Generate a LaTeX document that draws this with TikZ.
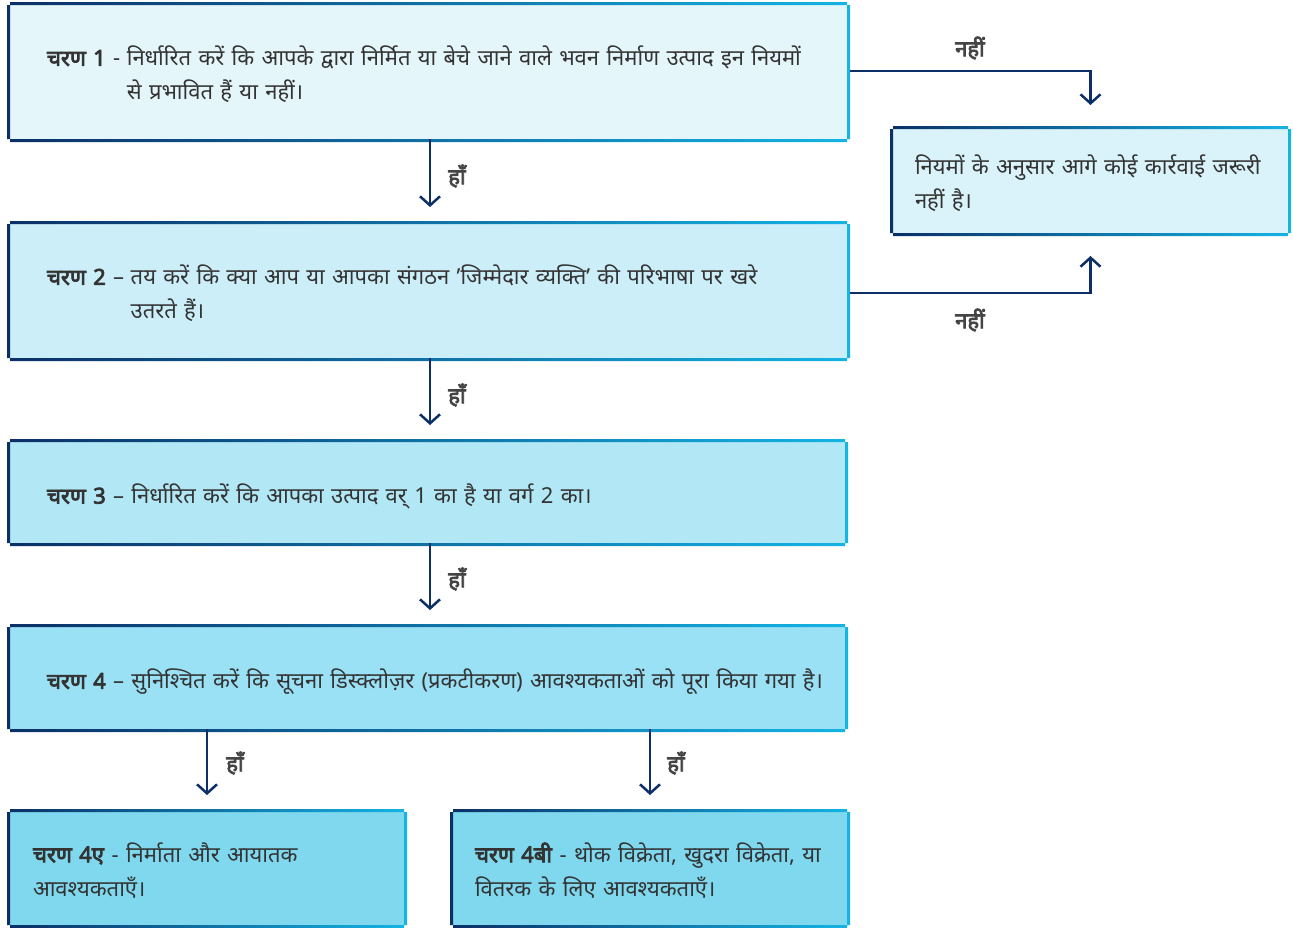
\documentclass[tikz,border=0pt]{standalone}
\usepackage{fontspec}
\setmainfont{Noto Sans}[Script=Devanagari, BoldFont={Noto Sans}, BoldFeatures={FakeBold=3.5}]
\usepackage{tikz}
\usetikzlibrary{arrows.meta}

\definecolor{navyline}{HTML}{0B2F66}
\definecolor{cyanline}{HTML}{14B4E4}
\definecolor{fillA}{HTML}{E5F6FB}
\definecolor{fillB}{HTML}{CCEEF8}
\definecolor{fillC}{HTML}{B2E7F5}
\definecolor{fillD}{HTML}{9AE1F5}
\definecolor{fillE}{HTML}{7FD8EE}
\definecolor{fillN}{HTML}{DAF2FA}
\definecolor{textgray}{HTML}{333333}
\definecolor{labelgray}{HTML}{444444}

% lower the text a little inside its box
\newcommand\steptext[1]{\raisebox{-4pt}[\height][\depth]{#1}}

\tikzset{
    stepbox/.style={rectangle, fill=#1, outer sep=0pt, inner ysep=0pt, align=left,
        text=textgray, font=\fontsize{22}{34}\selectfont},
    flow/.style={draw=navyline, line width=2.5pt, -{Straight Barb[length=9pt, width=20pt]}},
    answer/.style={text=labelgray, font=\bfseries\fontsize{22}{24}\selectfont, inner sep=0pt}
}

\begin{document}
\begin{tikzpicture}[x=1pt, y=-1pt]
    \useasboundingbox (0,0) rectangle (1293,927);

    % Main steps
    \node[stepbox=fillA, minimum width=843pt, minimum height=134pt, inner xsep=40pt, text width=763pt] (s1) at (428.5,72)
        {\steptext{\begin{tabular}{@{}l@{\hskip 0.3em}l@{}}\textbf{चरण 1} - & निर्धारित करें कि आपके द्वारा निर्मित या बेचे जाने वाले भवन निर्माण उत्पाद इन नियमों\\ & से प्रभावित हैं या नहीं।\end{tabular}}};
    \node[stepbox=fillB, minimum width=843pt, minimum height=134pt, inner xsep=40pt, text width=763pt] (s2) at (428.5,291)
        {\steptext{\begin{tabular}{@{}l@{\hskip 0.3em}l@{}}\textbf{चरण 2} – & तय करें कि क्या आप या आपका संगठन 'जिम्मेदार व्यक्ति' की परिभाषा पर खरे\\ & उतरते हैं।\end{tabular}}};
    \node[stepbox=fillC, minimum width=841pt, minimum height=101pt, inner xsep=40pt, text width=761pt] (s3) at (427.5,492.5)
        {\steptext{\textbf{चरण 3} – निर्धारित करें कि आपका उत्पाद वर् 1 का है या वर्ग 2 का।}};
    \node[stepbox=fillD, minimum width=841pt, minimum height=102pt, inner xsep=40pt, text width=761pt] (s4) at (427.5,678)
        {\steptext{\textbf{चरण 4} – सुनिश्चित करें कि सूचना डिस्क्लोज़र (प्रकटीकरण) आवश्यकताओं को पूरा किया गया है।}};

    % Split steps
    \node[stepbox=fillE, minimum width=400pt, minimum height=113pt, inner xsep=26pt, text width=348pt] (s4a) at (207,868.5)
        {\steptext{\begin{tabular}{@{}l@{}}\textbf{चरण 4ए} - निर्माता और आयातक\\ आवश्यकताएँ।\end{tabular}}};
    \node[stepbox=fillE, minimum width=400pt, minimum height=113pt, inner xsep=25pt, text width=350pt] (s4b) at (650,868.5)
        {\steptext{\begin{tabular}{@{}l@{}}\textbf{चरण 4बी} - थोक विक्रेता, खुदरा विक्रेता, या\\ वितरक के लिए आवश्यकताएँ।\end{tabular}}};

    % Outcome for "no"
    \node[stepbox=fillN, minimum width=401pt, minimum height=104pt, inner xsep=25pt, text width=351pt] (none) at (1090.5,181)
        {\steptext{\begin{tabular}{@{}l@{}}नियमों के अनुसार आगे कोई कार्रवाई जरूरी\\ नहीं है।\end{tabular}}};

    % Gradient frames
    \foreach \b in {s1, s2, s3, s4, s4a, s4b, none}
        \shade[left color=navyline, right color=cyanline, even odd rule]
            (\b.south west) rectangle (\b.north east)
            ([shift={(3pt,-3pt)}]\b.south west) rectangle ([shift={(-3pt,3pt)}]\b.north east);

    % Yes connectors
    \draw[flow, shorten >=17pt] ([xshift=1.5pt]s1.south) -- ([xshift=1.5pt]s2.north);
    \draw[flow, shorten >=17pt] ([xshift=1.5pt]s2.south) -- ([xshift=2.5pt]s3.north);
    \draw[flow, shorten >=17pt] ([xshift=2.5pt]s3.south) -- ([xshift=2.5pt]s4.north);
    \draw[flow, shorten >=17pt] (s4.south -| s4a) -- (s4a.north);
    \draw[flow, shorten >=17pt] (s4.south -| s4b) -- (s4b.north);

    % No connectors
    \draw[flow, shorten >=24pt] ([yshift=1pt]s1.east) -| (none.north);
    \draw[flow, shorten >=23pt] ([yshift=-2pt]s2.east) -| (none.south);

    % Labels
    \node[answer] (y1) at (457,176) {हाँ};
    \node[answer] (y2) at (457,395) {हाँ};
    \node[answer] (y3) at (457,579) {हाँ};
    \node[answer] (y4a) at (235,763) {हाँ};
    \node[answer] (y4b) at (676,763) {हाँ};
    \node[answer] (n1) at (970,48) {नहीं};
    \node[answer] (n2) at (970,320) {नहीं};

\end{tikzpicture}
\end{document}
